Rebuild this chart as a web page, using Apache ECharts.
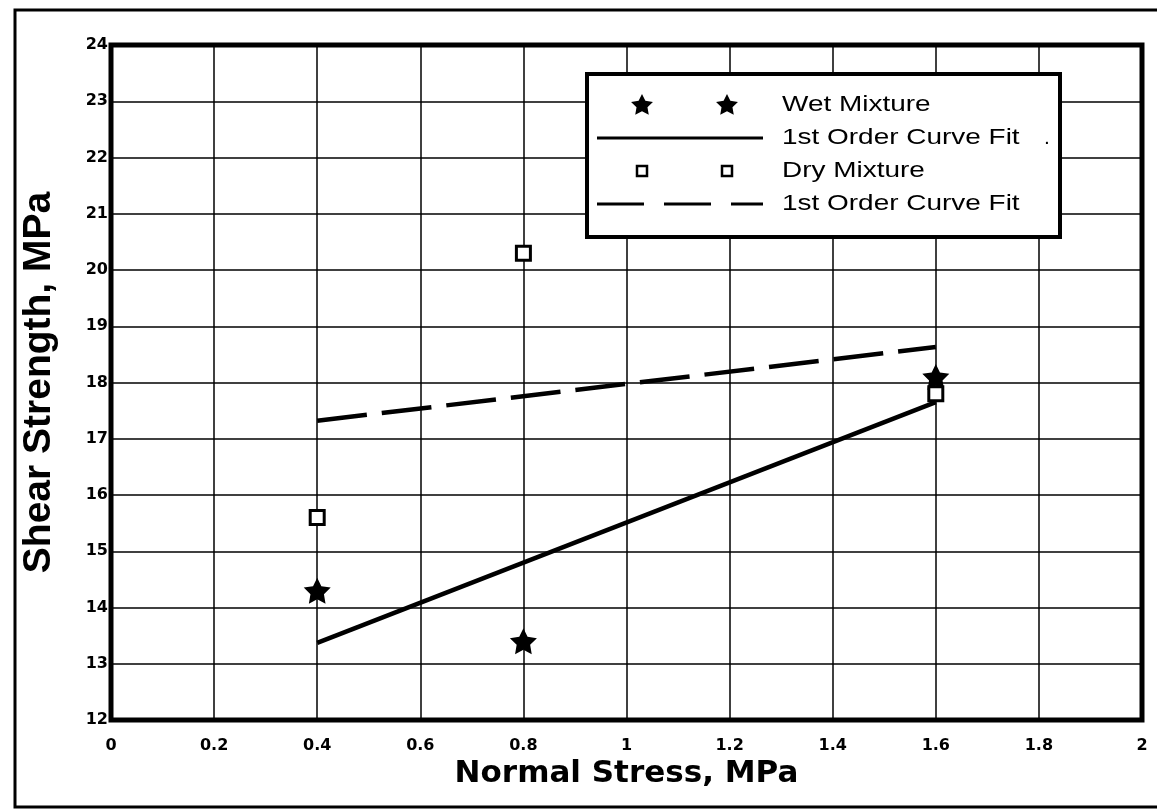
<!DOCTYPE html>
<html>
<head>
<meta charset="utf-8">
<title>Shear Strength vs Normal Stress</title>
<script src="https://cdn.jsdelivr.net/npm/echarts@6/dist/echarts.min.js"></script>
<style>
    html, body { margin: 0; padding: 0; background: #fff; }
    #shear_chart { width: 1157px; height: 810px; }
</style>
</head>
<body>
<div id="shear_chart"></div>
<script>

// Chart data
// ------------------------------

var wetStress = [0.4, 0.8, 1.6];
var wetStrength = [14.3, 13.4, 18.1];
var dryStress = [0.4, 0.8, 1.6];
var dryStrength = [15.6, 20.3, 17.8];

// 1st order fit lines, end points
var fitStress = [0.4, 1.6];
var wetFit = [13.37, 17.65];
var dryFit = [17.32, 18.63];

var legendLabels = ['Wet Mixture', '1st Order Curve Fit', 'Dry Mixture', '1st Order Curve Fit'];


// Setup module
// ------------------------------

var ShearChart = function() {

    // Fat 5 point star on a 100x100 box
    var STAR_PTS = [[50,2],[64.7,31.8],[97.6,36.5],[73.8,59.7],[79.4,92.5],[50,77],
                    [20.6,92.5],[26.2,59.7],[2.4,36.5],[35.3,31.8]];
    var STAR = 'path://M' + STAR_PTS.map(function(p) { return p[0] + ',' + p[1]; }).join(' L') + ' Z';
    var FONT = '"Liberation Sans", Arial, Helvetica, sans-serif';
    var WIDE = '"DejaVu Sans", Verdana, sans-serif';

    var pairs = function(xs, ys) {
        return xs.map(function(x, i) { return [x, ys[i]]; });
    };

    var starPoints = function(cx, cy, size) {
        return STAR_PTS.map(function(p) {
            return [cx + (p[0] - 50) * size / 100, cy + (p[1] - 50) * size / 100];
        });
    };

    // Legend drawn by hand: symbol - symbol - label rows inside a framed box
    var buildLegend = function() {
        var rows = [105, 138, 171, 204];
        var items = [];

        items.push({
            type: 'rect', z: 100,
            shape: { x: 587, y: 74, width: 473, height: 163 },
            style: { fill: '#fff', stroke: '#000', lineWidth: 4 }
        });

        // Wet mixture stars
        [642, 727].forEach(function(cx) {
            items.push({
                type: 'polygon', z: 101,
                shape: { points: starPoints(cx, rows[0], 23) },
                style: { fill: '#000' }
            });
        });

        // Solid fit
        items.push({
            type: 'line', z: 101,
            shape: { x1: 597, y1: rows[1], x2: 763, y2: rows[1] },
            style: { stroke: '#000', lineWidth: 3 }
        });

        // Dry mixture squares
        [642, 727].forEach(function(cx) {
            items.push({
                type: 'rect', z: 101,
                shape: { x: cx - 5, y: rows[2] - 5, width: 10, height: 10 },
                style: { fill: '#fff', stroke: '#000', lineWidth: 2.5 }
            });
        });

        // Dashed fit
        items.push({
            type: 'line', z: 101,
            shape: { x1: 597, y1: rows[3], x2: 763, y2: rows[3] },
            style: { stroke: '#000', lineWidth: 3, lineDash: [47, 20] }
        });

        // Labels are stretched sideways like the scanned original
        legendLabels.forEach(function(label, i) {
            items.push({
                type: 'text', x: 782, y: rows[i], scaleX: 1.3, z: 101,
                style: { text: label, font: '21.5px ' + FONT, fill: '#000', verticalAlign: 'middle' }
            });
        });

        items.push({
            type: 'text', x: 1044, y: rows[1], z: 101,
            style: { text: '.', font: '21px ' + FONT, fill: '#000', verticalAlign: 'middle' }
        });

        return items;
    };

    var _shearChart = function() {
        if (typeof echarts == 'undefined') {
            console.warn('Warning - echarts.min.js is not loaded.');
            return;
        }

        var element = document.getElementById('shear_chart');
        if (!element) return;

        var chart = echarts.init(element);

        var axisLabelStyle = {
            color: '#000',
            fontFamily: WIDE,
            fontWeight: 'bold',
            fontSize: 16
        };

        chart.setOption({
            animation: false,
            backgroundColor: '#fff',

            textStyle: { fontFamily: FONT },

            grid: {
                left: 111,
                right: 15,
                top: 45,
                bottom: 90,
                show: true,
                borderColor: '#000',
                borderWidth: 5,
                z: 3
            },

            // Outer frame and legend
            graphic: [{
                type: 'rect', z: -1,
                shape: { x: 15, y: 10, width: 1170, height: 797 },
                style: { fill: 'none', stroke: '#000', lineWidth: 3 }
            }].concat(buildLegend()),

            xAxis: {
                type: 'value',
                min: 0,
                max: 2,
                interval: 0.2,
                name: 'Normal Stress, MPa',
                nameLocation: 'middle',
                nameGap: 38,
                nameTextStyle: {
                    color: '#000',
                    fontFamily: WIDE,
                    fontWeight: 'bold',
                    fontSize: 31
                },
                axisLine: { show: false },
                axisTick: { show: false },
                axisLabel: Object.assign({
                    margin: 18,
                    formatter: function(v) { return String(+v.toFixed(1)); }
                }, axisLabelStyle),
                splitLine: { lineStyle: { color: '#000', width: 1.5 } }
            },

            yAxis: {
                type: 'value',
                min: 12,
                max: 24,
                interval: 1,
                name: 'Shear Strength, MPa',
                nameLocation: 'middle',
                nameGap: 52,
                nameTextStyle: {
                    color: '#000',
                    fontFamily: FONT,
                    fontWeight: 'bold',
                    fontSize: 39
                },
                axisLine: { show: false },
                axisTick: { show: false },
                axisLabel: Object.assign({ margin: 3 }, axisLabelStyle),
                splitLine: { lineStyle: { color: '#000', width: 1.5 } }
            },

            series: [
                {
                    name: '1st Order Curve Fit (wet)',
                    type: 'line',
                    data: pairs(fitStress, wetFit),
                    symbol: 'none',
                    z: 4,
                    lineStyle: { color: '#000', width: 4.5 }
                },
                {
                    name: '1st Order Curve Fit (dry)',
                    type: 'line',
                    data: pairs(fitStress, dryFit),
                    symbol: 'none',
                    z: 4,
                    lineStyle: { color: '#000', width: 4.5, type: [50, 15] }
                },
                {
                    name: 'Wet Mixture',
                    type: 'scatter',
                    data: pairs(wetStress, wetStrength),
                    symbol: STAR,
                    symbolSize: [27, 26],
                    z: 5,
                    itemStyle: { color: '#000', opacity: 1 }
                },
                {
                    name: 'Dry Mixture',
                    type: 'scatter',
                    data: pairs(dryStress, dryStrength),
                    symbol: 'rect',
                    symbolSize: 14,
                    z: 6,
                    itemStyle: { color: '#fff', borderColor: '#000', borderWidth: 3, opacity: 1 }
                }
            ]
        });

        window.addEventListener('resize', function() {
            chart.resize();
        });
    };

    return {
        init: function() {
            _shearChart();
        }
    };
}();


// Initialize module
// ------------------------------

document.addEventListener('DOMContentLoaded', function() {
    ShearChart.init();
});
</script>
</body>
</html>
